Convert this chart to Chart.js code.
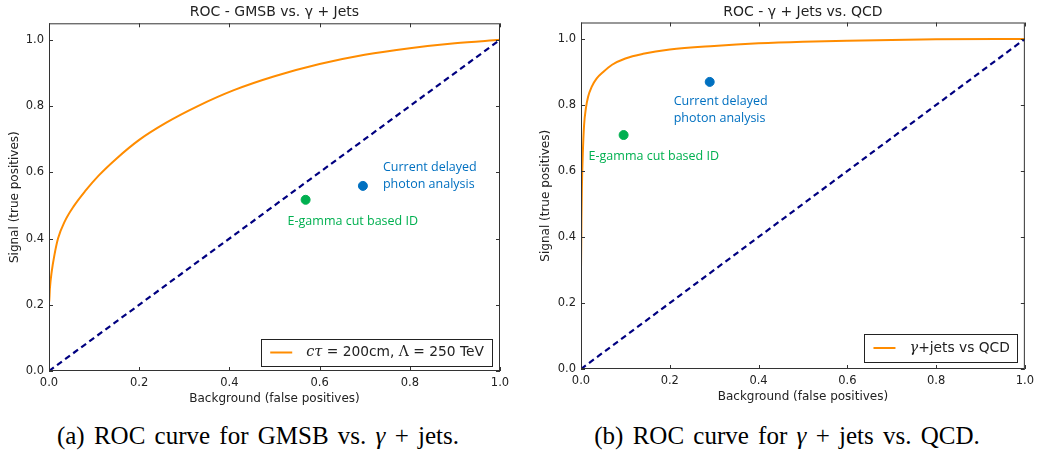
<!DOCTYPE html>
<html>
<head>
<meta charset="utf-8">
<title>ROC curves</title>
<script src="https://cdn.jsdelivr.net/npm/chart.js@4.4.0/dist/chart.umd.min.js"></script>
<style>
  html, body { margin: 0; padding: 0; background: #fff; }
  body { width: 1039px; height: 454px; position: relative; overflow: hidden; }
  canvas { position: absolute; top: 0; }
  #rocA { left: 0; }
  #rocB { left: 528px; }
  .caption {
    position: absolute; top: 422px; height: 28px; line-height: 28px;
    font-family: 'Liberation Serif', 'DejaVu Serif', serif; font-size: 25px;
    word-spacing: 3px; color: #000; text-align: center; white-space: nowrap;
  }
</style>
</head>
<body>
<canvas id="rocA" width="520" height="410"></canvas>
<canvas id="rocB" width="511" height="410"></canvas>
<div class="caption" style="left:0;width:516px">(a) ROC curve for GMSB vs. <i>γ</i> + jets.</div>
<div class="caption" style="left:528px;width:518px">(b) ROC curve for <i>γ</i> + jets vs. QCD.</div>
<script>
// axis ticks shared by both panels
const axisTicks = [0, 0.2, 0.4, 0.6, 0.8, 1.0];

// GMSB vs gamma+jets: false positive rate / true positive rate
const gmsbFpr = [0, 0, 0.002, 0.006, 0.012, 0.02, 0.035, 0.055, 0.08, 0.11, 0.15, 0.2, 0.26, 0.33, 0.41, 0.5, 0.6, 0.7, 0.8, 0.9, 1.0];
const gmsbTpr = [0, 0.2, 0.25, 0.3, 0.35, 0.4, 0.452, 0.498, 0.543, 0.59, 0.642, 0.698, 0.75, 0.8, 0.848, 0.89, 0.927, 0.955, 0.975, 0.99, 1.0];

// gamma+jets vs QCD
const qcdFpr = [0, 0, 0.001, 0.002, 0.004, 0.007, 0.011, 0.016, 0.024, 0.035, 0.05, 0.07, 0.1, 0.14, 0.2, 0.3, 0.4, 0.5, 0.6, 0.8, 1.0];
const qcdTpr = [0, 0.3, 0.45, 0.55, 0.65, 0.74, 0.79, 0.825, 0.855, 0.88, 0.9, 0.922, 0.941, 0.955, 0.968, 0.979, 0.987, 0.992, 0.995, 0.999, 1.0];

// random-guess diagonal
const diagFpr = [0, 1];
const diagTpr = [0, 1];

// cut-based working points: [current delayed photon analysis, E-gamma cut based ID]
const wpLabels = [['Current delayed', 'photon analysis'], ['E-gamma cut based ID']];
const wpColors = ['#0070c0', '#00b050'];
const wpFprA = [0.696, 0.569];
const wpTprA = [0.559, 0.517];
const wpFprB = [0.290, 0.096];
const wpTprB = [0.870, 0.709];

const toXY = (xs, ys) => xs.map((x, i) => ({ x, y: ys[i] }));

const TEXT = '#222';
const sans = (size) => ({ family: "'DejaVu Sans', sans-serif", size });

// panel title, centred over the plot area rather than the canvas
const panelTitle = {
  id: 'panelTitle',
  afterDraw(chart, args, opts) {
    const { ctx, chartArea: a } = chart;
    ctx.save();
    ctx.font = "14px 'DejaVu Sans', sans-serif";
    ctx.fillStyle = TEXT;
    ctx.textAlign = 'center';
    ctx.textBaseline = 'middle';
    ctx.fillText(opts.text, (a.left + a.right) / 2, opts.y);
    ctx.restore();
  }
};

// matplotlib-style frame with inward ticks on all sides
const frameTicks = {
  id: 'frameTicks',
  afterDatasetsDraw(chart) {
    const { ctx, chartArea: a, scales: { x, y } } = chart;
    ctx.save();
    ctx.strokeStyle = '#333';
    ctx.lineWidth = 1;
    ctx.strokeRect(a.left + 0.5, a.top + 0.5, a.width - 1, a.height - 1);
    ctx.beginPath();
    axisTicks.forEach(v => {
      const px = Math.round(x.getPixelForValue(v)) + 0.5;
      ctx.moveTo(px, a.bottom); ctx.lineTo(px, a.bottom - 4);
      ctx.moveTo(px, a.top); ctx.lineTo(px, a.top + 4);
      const py = Math.round(y.getPixelForValue(v)) + 0.5;
      ctx.moveTo(a.left, py); ctx.lineTo(a.left + 4, py);
      ctx.moveTo(a.right, py); ctx.lineTo(a.right - 4, py);
    });
    ctx.stroke();
    ctx.restore();
  }
};

// text notes beside the working points
const pointNotes = {
  id: 'pointNotes',
  afterDatasetsDraw(chart, args, opts) {
    const { ctx } = chart;
    ctx.save();
    ctx.font = "12.5px 'Open Sans', sans-serif";
    ctx.textBaseline = 'middle';
    ctx.textAlign = 'left';
    (opts.notes || []).forEach(n => {
      const pt = chart.getDatasetMeta(n.dataset).data[0];
      ctx.fillStyle = chart.data.datasets[n.dataset].backgroundColor;
      n.lines.forEach((line, i) => {
        ctx.fillText(line, pt.x + n.dx, pt.y + n.dy + i * 17);
      });
    });
    ctx.restore();
  }
};

// framed legend in the lower right corner of the plot
const boxLegend = {
  id: 'boxLegend',
  afterDatasetsDraw(chart, args, opts) {
    const { ctx, chartArea: a } = chart;
    const ds = chart.data.datasets[opts.dataset];
    const parts = ds.label.split(/(cτ|γ|Λ)/).filter(s => s);
    const fontFor = p => p === 'cτ' || p === 'γ'
      ? "italic 14.5px 'DejaVu Serif', serif"
      : p === 'Λ' ? "14px 'DejaVu Serif', serif" : "13.8px 'DejaVu Sans', sans-serif";
    ctx.save();
    let textW = 0;
    parts.forEach(p => { ctx.font = fontFor(p); textW += ctx.measureText(p).width; });
    const h = opts.height;
    const w = 9 + 22 + 14 + textW + 8;
    const right = a.right - opts.inset;
    const bottom = a.bottom - opts.bottomInset;
    const left = right - w, top = bottom - h;
    ctx.fillStyle = '#fff';
    ctx.fillRect(left, top, w, h);
    ctx.strokeStyle = '#222';
    ctx.lineWidth = 1;
    ctx.strokeRect(Math.round(left) + 0.5, Math.round(top) + 0.5, Math.round(w), Math.round(h));
    const cy = top + h / 2;
    ctx.strokeStyle = ds.borderColor;
    ctx.lineWidth = 2;
    ctx.beginPath();
    ctx.moveTo(left + 9, cy); ctx.lineTo(left + 31, cy);
    ctx.stroke();
    ctx.fillStyle = TEXT;
    ctx.textBaseline = 'middle';
    let tx = left + 45;
    parts.forEach(p => {
      ctx.font = fontFor(p);
      ctx.fillText(p, tx, cy);
      tx += ctx.measureText(p).width;
    });
    ctx.restore();
  }
};

function makeRoc(canvasId, cfg) {
  return new Chart(document.getElementById(canvasId), {
    type: 'scatter',
    data: {
      datasets: [
        {
          label: 'random',
          data: toXY(diagFpr, diagTpr),
          showLine: true,
          borderColor: '#000080',
          borderWidth: 2.2,
          borderDash: [6, 4],
          pointRadius: 0,
          order: 3,
        },
        {
          label: cfg.curveLabel,
          data: toXY(cfg.fpr, cfg.tpr),
          showLine: true,
          borderColor: '#ff8c00',
          borderWidth: 2,
          cubicInterpolationMode: 'monotone',
          pointRadius: 0,
          order: 2,
        },
        ...wpColors.map((c, i) => ({
          label: wpLabels[i].join(' '),
          data: [{ x: cfg.wpFpr[i], y: cfg.wpTpr[i] }],
          backgroundColor: c,
          borderColor: c,
          pointRadius: 4.5,
          order: 1,
        })),
      ],
    },
    options: {
      responsive: false,
      animation: false,
      events: [],
      layout: { padding: { left: 0, right: cfg.rightPad, top: cfg.topPad, bottom: 0 } },
      plugins: {
        legend: { display: false },
        tooltip: { enabled: false },
        title: { display: false },
        panelTitle: { text: cfg.title, y: 12.5 },
        pointNotes: { notes: cfg.notes },
        boxLegend: { dataset: 1, height: cfg.legendH, inset: cfg.legendInset, bottomInset: cfg.legendBottom },
      },
      scales: {
        x: {
          type: 'linear', min: 0, max: 1,
          afterBuildTicks: s => { s.ticks = axisTicks.map(v => ({ value: v })); },
          afterFit: s => { s.height = cfg.xHeight; },
          grid: { display: false, drawTicks: false },
          border: { display: false },
          ticks: { padding: 5, color: TEXT, font: sans(11.5), maxRotation: 0, autoSkip: false, callback: v => v.toFixed(1) },
          title: { display: true, text: 'Background (false positives)', color: TEXT, font: sans(12), padding: { top: 0, bottom: cfg.xTitleBottom } },
        },
        y: {
          type: 'linear', min: 0, max: 1.05,
          afterBuildTicks: s => { s.ticks = axisTicks.map(v => ({ value: v })); },
          afterFit: s => { s.width = cfg.yWidth; },
          grid: { display: false, drawTicks: false },
          border: { display: false },
          ticks: { padding: 5, color: TEXT, font: sans(11.5), autoSkip: false, callback: v => v.toFixed(1) },
          title: { display: true, text: 'Signal (true positives)', color: TEXT, font: sans(12), padding: { top: cfg.yTitleLeft, bottom: 0 } },
        },
      },
    },
    plugins: [frameTicks, pointNotes, boxLegend, panelTitle],
  });
}

makeRoc('rocA', {
  title: 'ROC - GMSB vs. γ + Jets',
  curveLabel: 'cτ = 200cm, Λ = 250 TeV',
  fpr: gmsbFpr, tpr: gmsbTpr,
  wpFpr: wpFprA, wpTpr: wpTprA,
  notes: [
    { dataset: 2, lines: wpLabels[0], dx: 20, dy: -18 },
    { dataset: 3, lines: wpLabels[1], dx: -18, dy: 22 },
  ],
  rightPad: 20, topPad: 23.3, xHeight: 39, yWidth: 49,
  xTitleBottom: 4, yTitleLeft: 8,
  legendH: 27, legendInset: 8, legendBottom: 5,
});

makeRoc('rocB', {
  title: 'ROC - γ + Jets vs. QCD',
  curveLabel: 'γ+jets vs QCD',
  fpr: qcdFpr, tpr: qcdTpr,
  wpFpr: wpFprB, wpTpr: wpTprB,
  notes: [
    { dataset: 2, lines: wpLabels[0], dx: -36, dy: 20 },
    { dataset: 3, lines: wpLabels[1], dx: -35, dy: 21 },
  ],
  rightPad: 10, topPad: 22.5, xHeight: 41, yWidth: 53,
  xTitleBottom: 6, yTitleLeft: 11,
  legendH: 28, legendInset: 7, legendBottom: 7,
});
</script>
</body>
</html>
